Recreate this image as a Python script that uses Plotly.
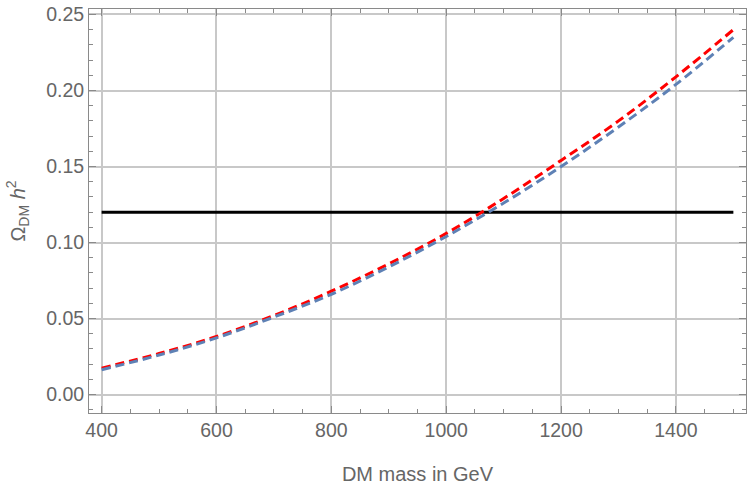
import plotly.graph_objects as go

mass = [400, 500, 600, 700, 800, 900, 1000, 1100, 1200, 1300, 1400, 1500]
omega_red = [0.0174, 0.027, 0.0382, 0.052, 0.068, 0.086, 0.106, 0.129, 0.154, 0.180, 0.209, 0.240]
omega_blue = [0.0164, 0.026, 0.0373, 0.051, 0.066, 0.084, 0.104, 0.126, 0.150, 0.176, 0.204, 0.235]
planck_x = [400, 1500]
planck_y = [0.12, 0.12]

fig = go.Figure()
fig.add_trace(go.Scatter(x=planck_x, y=planck_y, mode="lines",
                         line=dict(color="black", width=3), showlegend=False))
fig.add_trace(go.Scatter(x=mass, y=omega_red, mode="lines",
                         line=dict(color="#FF0000", width=3, dash="9px,5px", shape="spline"),
                         showlegend=False))
fig.add_trace(go.Scatter(x=mass, y=omega_blue, mode="lines",
                         line=dict(color="#5E81B5", width=3, dash="9px,5px", shape="spline"),
                         showlegend=False))

font_family = "Liberation Sans, Arial, sans-serif"
axis_common = dict(
    showline=True, linecolor="#8a8a8a", linewidth=1, mirror="ticks",
    ticks="inside", ticklen=7, tickcolor="#8a8a8a", tickwidth=1,
    showgrid=True, gridcolor="#c8c8c8", gridwidth=1.5,
    zeroline=False,
    tickfont=dict(family=font_family, size=19.5, color="#666666"),
)

fig.update_xaxes(range=[378, 1522], tickvals=[400, 600, 800, 1000, 1200, 1400],
                 minor=dict(dtick=50, tick0=400, ticks="inside", ticklen=4,
                            tickcolor="#8a8a8a", showgrid=False),
                 title=dict(text="DM mass in GeV", standoff=26,
                            font=dict(family=font_family, size=20, color="#666666")),
                 **axis_common)
fig.update_yaxes(range=[-0.0121, 0.2536], tickvals=[0, 0.05, 0.10, 0.15, 0.20, 0.25],
                 tickformat=".2f",
                 minor=dict(dtick=0.01, tick0=0, ticks="inside", ticklen=4,
                            tickcolor="#8a8a8a", showgrid=False),
                 title=dict(text="Ω<sub>DM</sub> <i>h</i><sup>2</sup>", standoff=15,
                            font=dict(family=font_family, size=20, color="#666666")),
                 **axis_common)

fig.update_layout(width=750, height=490, margin=dict(l=89, r=4, t=9, b=77),
                  plot_bgcolor="white", paper_bgcolor="white")

fig.write_html("out.html")
